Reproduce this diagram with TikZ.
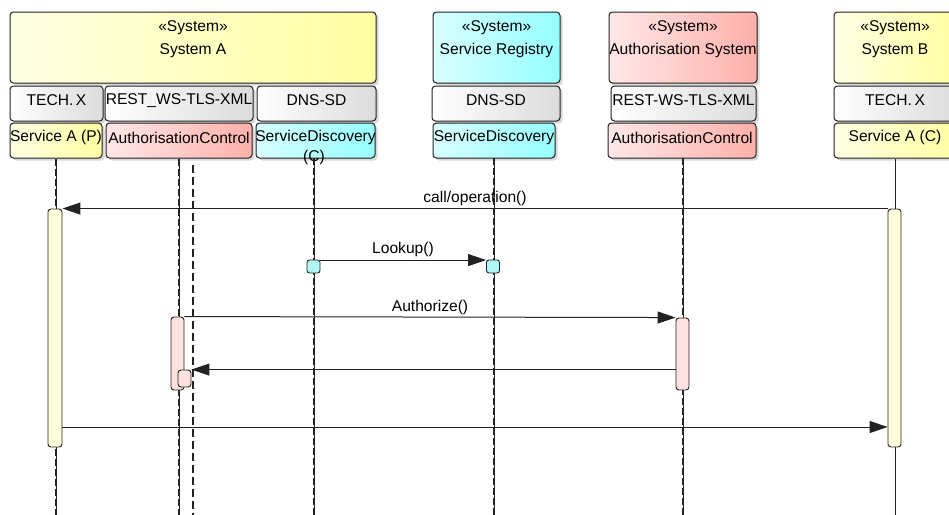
\documentclass[tikz,border=0pt]{standalone}
\usepackage{fontspec}
\setmainfont{Liberation Sans}
\usetikzlibrary{arrows.meta,shadows}

\definecolor{ylL}{HTML}{FFFFE4}
\definecolor{ylR}{HTML}{FFFFA2}
\definecolor{cyL}{HTML}{D8FFFF}
\definecolor{cyR}{HTML}{96FFFF}
\definecolor{pkL}{HTML}{FFE8E8}
\definecolor{pkR}{HTML}{FFB0AA}
\definecolor{gyL}{HTML}{FFFFFF}
\definecolor{gyR}{HTML}{DCDCDC}
\definecolor{actY}{HTML}{FFFFDC}
\definecolor{actP}{HTML}{FFE2E0}
\definecolor{actC}{HTML}{B0F8F8}
\definecolor{edge}{HTML}{222222}

\begin{document}
\begin{tikzpicture}[x=1pt,y=-1pt,
  box/.style={draw=edge, line width=1pt, rounded corners=3.5pt, inner sep=0pt,
    drop shadow={shadow xshift=2.5pt, shadow yshift=-2.5pt, fill=black!30, opacity=0.5}},
  yel/.style={box, left color=ylL, right color=ylR},
  cya/.style={box, left color=cyL, right color=cyR},
  pnk/.style={box, left color=pkL, right color=pkR},
  gry/.style={box, left color=gyL, right color=gyR},
  txt/.style={font=\fontsize{15.6}{19}\selectfont, inner sep=0pt, text=black, yshift=-2.5pt},
  lifeline/.style={draw=edge, line width=1.3pt, dash pattern=on 7pt off 3pt,
    preaction={draw=edge, line width=0.6pt, solid}},
  lifesolid/.style={draw=edge, line width=1pt},
  lifedash/.style={draw=edge, line width=1.2pt, dash pattern=on 8pt off 4pt},
  act/.style={draw=edge, line width=0.9pt, rounded corners=3pt, inner sep=0pt, minimum width=13},
  msg/.style={draw=edge, line width=1pt, -{Triangle[length=18pt,width=12pt]}}
]
\clip (0,0) rectangle (949,514);
\fill[white] (0,0) rectangle (949,514);

% ---- System A ----
\node[yel, minimum width=366, minimum height=71] (sysA) at (193,47.5) {};
\node[txt] (sysAst) at (193,25) {«System»};
\node[txt] (sysAnm) at (193,48) {System A};
\node[gry, minimum width=93, minimum height=35] (techA) at (56.5,103.5) {};
\node[txt] (techAt) at (56.5,98) {TECH.\,X};
\node[gry, minimum width=148, minimum height=35] (restA) at (179,103.5) {};
\node[txt] (restAt) at (179,98) {REST\_WS-TLS-XML};
\node[gry, minimum width=119, minimum height=35] (dnsA) at (316.5,103.5) {};
\node[txt] (dnsAt) at (316.5,98) {DNS-SD};
\node[yel, minimum width=92, minimum height=35] (svcP) at (56,140.5) {};
\node[txt] (svcPt) at (56,135) {Service A (P)};
\node[pnk, minimum width=146, minimum height=35] (acA) at (179,140.5) {};
\node[txt] (acAt) at (179,135) {AuthorisationControl};
\node[cya, minimum width=119, minimum height=35] (sdA) at (315.5,140.5) {};
\node[txt] (sdAt) at (315.5,135) {ServiceDiscovery};
\node[txt] (sdAc) at (314,155) {(C)};

% ---- Service Registry ----
\node[cya, minimum width=127, minimum height=71] (reg) at (496.5,47.5) {};
\node[txt] (regst) at (496.5,25) {«System»};
\node[txt] (regnm) at (496.5,48) {Service Registry};
\node[gry, minimum width=128, minimum height=35] (dnsR) at (496,103.5) {};
\node[txt] (dnsRt) at (496,98) {DNS-SD};
\node[cya, minimum width=122, minimum height=35] (sdR) at (494,140.5) {};
\node[txt] (sdRt) at (494,135) {ServiceDiscovery};

% ---- Authorisation System ----
\node[pnk, minimum width=148, minimum height=71] (aus) at (683,47.5) {};
\node[txt] (ausst) at (683,25) {«System»};
\node[txt] (ausnm) at (683,48) {Authorisation System};
\node[gry, minimum width=145, minimum height=35] (restS) at (683.5,103.5) {};
\node[txt] (restSt) at (683.5,98) {REST-WS-TLS-XML};
\node[pnk, minimum width=148, minimum height=35] (acS) at (682,140.5) {};
\node[txt] (acSt) at (682,135) {AuthorisationControl};

% ---- System B ----
\node[yel, minimum width=122, minimum height=71] (sysB) at (895,47.5) {};
\node[txt] (sysBst) at (895,25) {«System»};
\node[txt] (sysBnm) at (895,48) {System B};
\node[gry, minimum width=122, minimum height=35] (techB) at (895,103.5) {};
\node[txt] (techBt) at (895,98) {TECH.\,X};
\node[yel, minimum width=122, minimum height=35] (svcC) at (895,140.5) {};
\node[txt] (svcCt) at (895,135) {Service A (C)};

% ---- lifelines ----
\coordinate (endP) at (56,520);
\coordinate (endAC) at (179,520);
\coordinate (topAC2) at (193,165);
\coordinate (endAC2) at (193,520);
\coordinate (endSD) at (314,520);
\coordinate (endR) at (494,520);
\coordinate (endS) at (683,520);
\coordinate (endB) at (895,520);
\draw[lifeline] (svcP.south) -- (endP);
\draw[lifeline] (acA.south) -- (endAC);
\draw[lifedash] (topAC2) -- (endAC2);
\draw[lifeline] (314,158) -- (endSD);
\draw[lifeline] (494,158) -- (endR);
\draw[lifeline] (683,158) -- (endS);
\draw[lifesolid] (svcC.south) -- (endB);

% ---- activations ----
\node[act, fill=actY, minimum width=14, minimum height=238] (actA) at (55,328) {};
\node[act, fill=actY, minimum height=238] (actB) at (894.5,328) {};
\node[act, fill=actP, minimum height=73] (actAC) at (177.5,353.5) {};
\node[act, fill=actP, minimum height=17] (nestAC) at (184.5,378.5) {};
\node[act, fill=actP, minimum height=72] (actAS) at (682.5,354) {};
\node[act, fill=actC, minimum height=13, rounded corners=2.5pt] (sqL) at (313.5,266.5) {};
\node[act, fill=actC, minimum height=13, rounded corners=2.5pt] (sqR) at (493,266.5) {};

% ---- messages ----
\draw[msg] (actB.north west) -- (actA.north east);
\node[txt] (lblCall) at (475,196) {call/operation()};
\draw[msg] ([yshift=-0.5pt]sqL.north east) -- ([yshift=-0.5pt]sqR.north west);
\node[txt] (lblLook) at (403,247) {Lookup()};
\draw[msg] (actAC.north east) -- (actAS.north west);
\node[txt] (lblAuth) at (430,305) {Authorize()};
\draw[msg] (actAS.west |- nestAC.north) -- (nestAC.north east);
\draw[msg] (actA.east |- 0,427) -- (actB.west |- 0,427);
\end{tikzpicture}
\end{document}
